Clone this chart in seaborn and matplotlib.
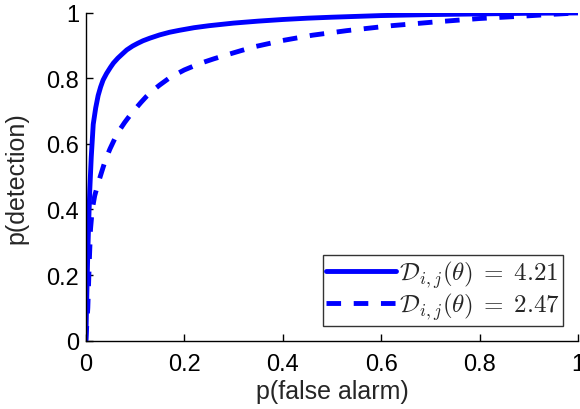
import numpy as np
import pandas as pd
import matplotlib
matplotlib.use("Agg")
import matplotlib.pyplot as plt
import seaborn as sns

pfa_a = [0.0, 0.002, 0.004, 0.006, 0.008, 0.011, 0.015, 0.02, 0.025, 0.03, 0.035, 0.042, 0.05, 0.056, 0.065, 0.075, 0.083, 0.095, 0.105, 0.116, 0.13, 0.15, 0.17, 0.19, 0.22, 0.25, 0.3, 0.35, 0.4, 0.45, 0.5, 0.6, 0.7, 0.8, 0.9, 1.0]
pd_a  = [0.0, 0.14, 0.27, 0.37, 0.46, 0.56, 0.66, 0.71, 0.748, 0.774, 0.795, 0.815, 0.834, 0.847, 0.862, 0.876, 0.887, 0.899, 0.907, 0.915, 0.923, 0.933, 0.941, 0.947, 0.955, 0.961, 0.969, 0.975, 0.980, 0.984, 0.987, 0.992, 0.995, 0.997, 0.999, 1.0]

pfa_b = [0.0, 0.002, 0.004, 0.007, 0.0095, 0.013, 0.018, 0.025, 0.032, 0.04, 0.049, 0.06, 0.07, 0.079, 0.09, 0.1, 0.112, 0.123, 0.135, 0.15, 0.171, 0.2, 0.232, 0.26, 0.286, 0.313, 0.343, 0.4, 0.46, 0.53, 0.62, 0.713, 0.8, 0.896, 0.95, 1.0]
pd_b  = [0.0, 0.05, 0.1, 0.24, 0.34, 0.40, 0.442, 0.48, 0.514, 0.552, 0.585, 0.62, 0.646, 0.666, 0.688, 0.706, 0.727, 0.745, 0.762, 0.78, 0.803, 0.826, 0.846, 0.86, 0.872, 0.884, 0.897, 0.916, 0.932, 0.946, 0.961, 0.973, 0.983, 0.991, 0.996, 1.0]

labels = [r"$\mathcal{D}_{i,j}(\theta)\;=\;4.21$", r"$\mathcal{D}_{i,j}(\theta)\;=\;2.47$"]
tick_vals = [0, 0.2, 0.4, 0.6, 0.8, 1]
tick_labels = ["0", "0.2", "0.4", "0.6", "0.8", "1"]

sns.set_style("white")
plt.rcParams['font.family'] = ['Liberation Sans', 'DejaVu Sans']
plt.rcParams['mathtext.fontset'] = 'cm'

df = pd.concat([
    pd.DataFrame({"pfa": pfa_a, "pd": pd_a, "curve": labels[0]}),
    pd.DataFrame({"pfa": pfa_b, "pd": pd_b, "curve": labels[1]}),
], ignore_index=True)

fig = plt.figure(figsize=(5.8, 4.1), dpi=100)
ax = fig.add_axes([0.148, 0.167, 0.849, 0.799])

sns.lineplot(data=df, x="pfa", y="pd", hue="curve", style="curve",
             palette=["#0000ff", "#0000ff"], dashes=[(None, None), (3, 2.6)],
             linewidth=3.5, sort=False, estimator=None, ax=ax)

ax.set_xlim(0, 1)
ax.set_ylim(0, 1)
ax.set_xticks(tick_vals)
ax.set_xticklabels(tick_labels)
ax.set_yticks(tick_vals)
ax.set_yticklabels(tick_labels)
ax.tick_params(axis="both", direction="in", length=5, width=1, labelsize=17, colors="black")
ax.tick_params(axis="x", pad=9)
ax.tick_params(axis="y", pad=5)
ax.tick_params(bottom=True, left=True)
for s in ["top", "right"]:
    ax.spines[s].set_visible(False)
for s in ["left", "bottom"]:
    ax.spines[s].set_color("black")
    ax.spines[s].set_linewidth(1)
ax.set_xlabel("p(false alarm)", fontsize=18, labelpad=3)
ax.set_ylabel("p(detection)", fontsize=18, labelpad=13)

leg = ax.legend(loc="lower right", fontsize=18, frameon=True, fancybox=False,
                edgecolor="black", handlelength=2.8, borderpad=0.15,
                labelspacing=0.0, handletextpad=0.1, borderaxespad=0.6)
leg.get_frame().set_linewidth(1)
leg.set_title(None)

fig.savefig("out.png", dpi=100)
